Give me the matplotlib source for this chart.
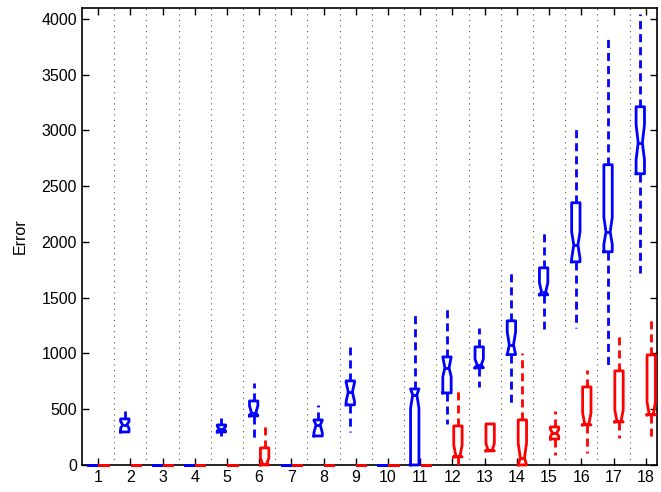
import matplotlib
matplotlib.use('Agg')
import matplotlib.pyplot as plt
import numpy as np

plt.rcParams['font.family'] = ['Liberation Sans', 'DejaVu Sans']

groups = list(range(1, 19))

# blue series: whisker low, q1, median, q3, whisker high, notch low, notch high
blue_lo   = [0, 296, 0, 0, 260, 242, 0, 260, 296, 0, 0, 368, 700, 530, 1220, 1230, 870, 1723]
blue_q1   = [0, 296, 0, 0, 296, 440, 0, 260, 539, 0, 0, 646, 871, 990, 1526, 1822, 1912, 2612]
blue_med  = [0, 359, 0, 0, 323, 467, 0, 359, 655, 0, 628, 871, 898, 1077, 1553, 1975, 2091, 2890]
blue_q3   = [0, 413, 0, 0, 359, 574, 0, 404, 754, 0, 682, 969, 1059, 1293, 1768, 2352, 2693, 3213]
blue_hi   = [0, 512, 0, 0, 422, 736, 0, 539, 1059, 0, 1355, 1409, 1230, 1732, 2100, 3025, 3833, 4048]
blue_cilo = [0, 330, 0, 0, 305, 445, 0, 290, 570, 0, 510, 790, 871, 990, 1526, 1850, 1980, 2738]
blue_cihi = [0, 390, 0, 0, 345, 530, 0, 400, 740, 0, 682, 969, 950, 1194, 1634, 2091, 2220, 3052]

# red series
red_lo   = [0, 0, 0, 0, 0, 0, 0, 0, 0, 0, 0, 0, 126, 0, 90, 108, 242, 251]
red_q1   = [0, 0, 0, 0, 0, 0, 0, 0, 0, 0, 0, 72, 126, 0, 233, 359, 386, 449]
red_med  = [0, 0, 0, 0, 0, 10, 0, 0, 0, 0, 0, 81, 135, 63, 287, 368, 395, 458]
red_q3   = [0, 0, 0, 0, 0, 153, 0, 0, 0, 0, 0, 350, 368, 404, 341, 700, 844, 987]
red_hi   = [0, 0, 0, 0, 0, 359, 0, 0, 0, 0, 0, 682, 368, 1005, 485, 853, 1167, 1337]
red_cilo = [0, 0, 0, 0, 0, 0, 0, 0, 0, 0, 0, 72, 126, 0, 255, 359, 386, 449]
red_cihi = [0, 0, 0, 0, 0, 60, 0, 0, 0, 0, 0, 180, 190, 197, 320, 467, 494, 565]


def make_stats(lo, q1, med, q3, hi, cilo, cihi):
    out = []
    for i in range(len(lo)):
        out.append(dict(whislo=lo[i], q1=q1[i], med=med[i], q3=q3[i],
                        whishi=hi[i], cilo=cilo[i], cihi=cihi[i], fliers=[]))
    return out


fig = plt.figure(figsize=(6.61, 4.92), dpi=100)
ax = fig.add_axes([0.124, 0.055, 0.870, 0.929])

for stats, color, off in [
        (make_stats(blue_lo, blue_q1, blue_med, blue_q3, blue_hi, blue_cilo, blue_cihi), 'blue', -0.17),
        (make_stats(red_lo, red_q1, red_med, red_q3, red_hi, red_cilo, red_cihi), 'red', 0.17)]:
    pos = [g + off for g in groups]
    arts = ax.bxp(stats, positions=pos, widths=0.26, shownotches=True, showcaps=False,
                  showfliers=False, manage_ticks=False,
                  boxprops=dict(color=color, linewidth=2),
                  medianprops=dict(color=color, linewidth=2),
                  whiskerprops=dict(color=color, linewidth=2, linestyle=(0, (2.9, 1.8))))
    # let the flat boxes at zero sit on top of the axis line
    for key in arts:
        for a in arts[key]:
            a.set_clip_on(False)
            a.set_zorder(3)

# dotted separators between groups
for g in groups[:-1]:
    ax.axvline(g + 0.5, color='0.35', linestyle=(0, (1, 4)), linewidth=0.8, zorder=0)

ax.set_xlim(0.5, 18.35)
ax.set_ylim(0, 4100)
ax.set_xticks(groups)
ax.set_xticklabels([str(g) for g in groups])
ax.set_yticks(np.arange(0, 4001, 500))
ax.tick_params(direction='in', top=True, right=True, labelsize=11.5, length=5, width=1)
for s in ax.spines.values():
    s.set_linewidth(1.2)
ax.set_ylabel('Error', fontsize=11.5, labelpad=10)

fig.savefig('out.png', dpi=100)
